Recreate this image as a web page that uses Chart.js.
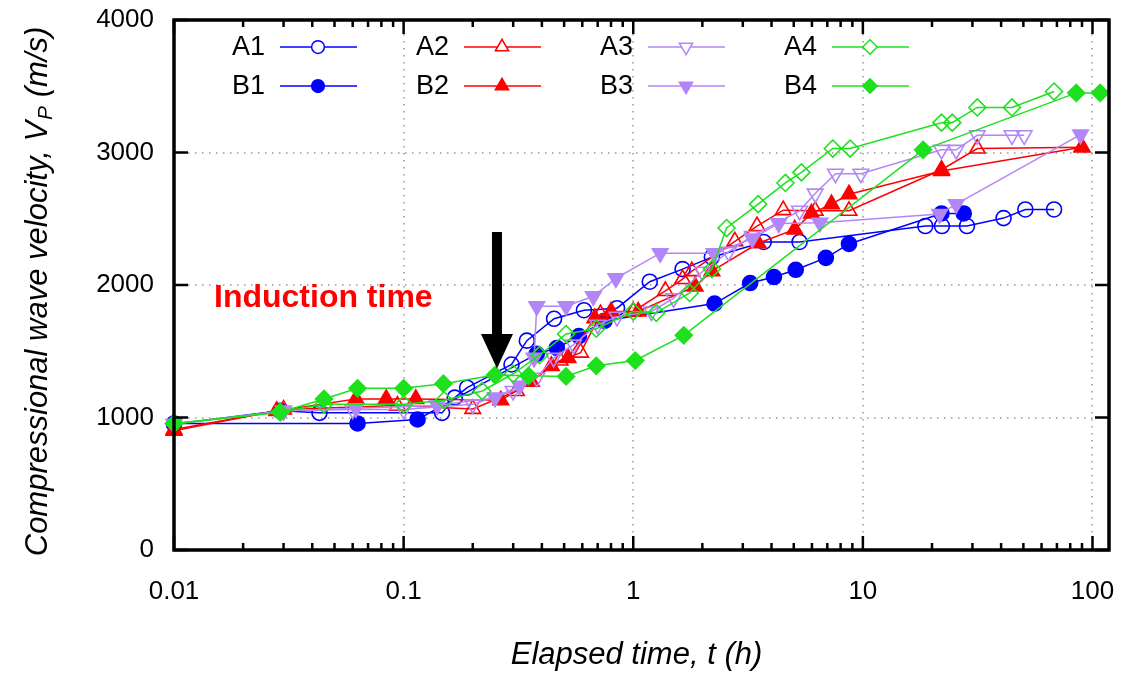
<!DOCTYPE html>
<html>
<head>
<meta charset="utf-8">
<title>Compressional wave velocity vs elapsed time</title>
<script src="https://cdn.jsdelivr.net/npm/chart.js@4.4.1/dist/chart.umd.min.js"></script>
<style>
  html, body { margin: 0; padding: 0; background: #fff; }
  #wrap { width: 1127px; height: 677px; }
</style>
</head>
<body>
<div id="wrap"><canvas id="myChart" width="1127" height="677"></canvas></div>
<script>
// Elapsed time t (h) and P-wave velocity Vp (m/s)
const a1Time = [0.01, 0.029, 0.043, 0.147, 0.167, 0.189, 0.295, 0.344, 0.452, 0.61, 0.85, 1.18, 1.64, 2.2, 3.7, 5.3, 18.7, 22.1, 28.4, 41, 51, 68];
const a1Vel  = [950, 1050, 1035, 1035, 1150, 1225, 1400, 1580, 1745, 1810, 1825, 2025, 2120, 2210, 2325, 2325, 2445, 2445, 2445, 2505, 2570, 2570];

const b1Time = [0.01, 0.063, 0.115, 0.38, 0.465, 0.58, 0.75, 2.26, 3.23, 4.1, 5.1, 6.9, 8.7, 22, 27.5];
const b1Vel  = [955, 955, 985, 1480, 1525, 1615, 1730, 1860, 2015, 2060, 2115, 2205, 2310, 2540, 2540];

const a2Time = [0.01, 0.03, 0.094, 0.2, 0.31, 0.48, 0.59, 0.72, 1.0, 1.38, 1.64, 1.8, 2.77, 3.46, 4.5, 6.2, 8.7, 22, 31.5, 90];
const a2Vel  = [910, 1060, 1090, 1065, 1200, 1430, 1490, 1780, 1800, 1955, 2045, 2105, 2330, 2445, 2565, 2560, 2560, 2870, 3030, 3040];

const b2Time = [0.01, 0.028, 0.062, 0.084, 0.113, 0.265, 0.36, 0.44, 0.52, 0.68, 0.8, 1.05, 1.86, 2.2, 3.5, 5.05, 5.97, 7.3, 8.7, 22, 90];
const b2Vel  = [900, 1050, 1140, 1140, 1140, 1130, 1270, 1390, 1450, 1750, 1800, 1800, 1990, 2105, 2315, 2420, 2540, 2610, 2685, 2860, 3040];

const a3Time = [0.01, 0.03, 0.06, 0.1, 0.2, 0.3, 0.38, 0.45, 0.55, 0.7, 0.85, 1.2, 1.5, 2.0, 2.6, 3.3, 5.3, 6.2, 7.6, 9.8, 22, 25.5, 31.5, 44.6, 50.4];
const a3Vel  = [950, 1050, 1060, 1060, 1100, 1200, 1300, 1450, 1550, 1700, 1760, 1800, 1900, 2100, 2250, 2370, 2560, 2690, 2840, 2840, 3020, 3020, 3130, 3130, 3130];

const b3Time = [0.01, 0.03, 0.062, 0.14, 0.25, 0.32, 0.37, 0.38, 0.51, 0.67, 0.84, 1.31, 2.25, 3.3, 4.3, 6.5, 21.6, 25.5, 88.7];
const b3Vel  = [950, 1050, 1070, 1090, 1150, 1240, 1450, 1840, 1840, 1915, 2050, 2240, 2240, 2350, 2465, 2470, 2535, 2610, 3135];

const a4Time = [0.01, 0.029, 0.045, 0.1, 0.15, 0.22, 0.3, 0.39, 0.51, 0.69, 1.0, 1.26, 1.76, 2.2, 2.55, 3.5, 4.6, 5.4, 7.4, 8.8, 22, 24.5, 31.5, 44.6, 68];
const a4Vel  = [955, 1040, 1100, 1100, 1130, 1200, 1330, 1470, 1630, 1670, 1800, 1790, 1940, 2120, 2430, 2610, 2770, 2850, 3030, 3030, 3225, 3225, 3340, 3340, 3460];

const b4Time = [0.01, 0.029, 0.045, 0.063, 0.1, 0.149, 0.25, 0.35, 0.51, 0.69, 1.02, 1.66, 18.3, 85, 108];
const b4Vel  = [955, 1040, 1140, 1220, 1220, 1255, 1320, 1315, 1310, 1390, 1430, 1620, 3020, 3450, 3450];

const xTickValues = [0.01, 0.1, 1, 10, 100];
const yTickValues = [0, 1000, 2000, 3000, 4000];

// induction time arrow (t, top, head start, tip)
const arrowTime = 0.255;
const arrowVel = [2400, 1630, 1370];

const FONT = '"Liberation Sans", Arial, Helvetica, sans-serif';
const BLUE = '#0000ff', RED = '#ff0000', PURPLE = '#b386f7', GREEN = '#1ee01e';

const seriesInfo = [
  { label: 'A1', time: a1Time, vel: a1Vel, color: BLUE,   style: 'circle',   rot: 0,   filled: false, r: 7.5 },
  { label: 'B1', time: b1Time, vel: b1Vel, color: BLUE,   style: 'circle',   rot: 0,   filled: true,  r: 7.5 },
  { label: 'A2', time: a2Time, vel: a2Vel, color: RED,    style: 'triangle', rot: 0,   filled: false, r: 9 },
  { label: 'B2', time: b2Time, vel: b2Vel, color: RED,    style: 'triangle', rot: 0,   filled: true,  r: 9 },
  { label: 'A3', time: a3Time, vel: a3Vel, color: PURPLE, style: 'triangle', rot: 180, filled: false, r: 9 },
  { label: 'B3', time: b3Time, vel: b3Vel, color: PURPLE, style: 'triangle', rot: 180, filled: true,  r: 9 },
  { label: 'A4', time: a4Time, vel: a4Vel, color: GREEN,  style: 'rectRot',  rot: 0,   filled: false, r: 8.5 },
  { label: 'B4', time: b4Time, vel: b4Vel, color: GREEN,  style: 'rectRot',  rot: 0,   filled: true,  r: 8.5 }
];

const datasets = seriesInfo.map((s, i) => ({
  label: s.label,
  data: s.time.map((t, j) => ({ x: t, y: s.vel[j] })),
  showLine: true,
  tension: 0,
  borderColor: s.color,
  backgroundColor: s.color,
  borderWidth: 1.5,
  pointStyle: s.style,
  pointRotation: s.rot,
  pointRadius: s.r,
  pointBorderWidth: 1.6,
  pointBorderColor: s.color,
  pointBackgroundColor: s.filled ? s.color : 'rgba(0,0,0,0)',
  clip: false,
  order: seriesInfo.length - i
}));

// dotted grid behind the data
const gridPlugin = {
  id: 'dotGrid',
  beforeDatasetsDraw(chart) {
    const { ctx, chartArea: a, scales: { x, y } } = chart;
    ctx.save();
    ctx.strokeStyle = '#999';
    ctx.lineWidth = 1.5;
    ctx.setLineDash([1.5, 5.5]);
    ctx.beginPath();
    xTickValues.forEach(v => {
      const px = Math.round(x.getPixelForValue(v));
      if (px > a.left + 3 && px < a.right - 3) { ctx.moveTo(px, a.top); ctx.lineTo(px, a.bottom); }
    });
    yTickValues.forEach(v => {
      const py = Math.round(y.getPixelForValue(v));
      if (py > a.top + 3 && py < a.bottom - 3) { ctx.moveTo(a.left, py); ctx.lineTo(a.right, py); }
    });
    ctx.stroke();
    ctx.restore();
  }
};

// border box with inward ticks on all four sides
const framePlugin = {
  id: 'frame',
  afterDatasetsDraw(chart) {
    const { ctx, chartArea: a, scales: { x, y } } = chart;
    ctx.save();
    ctx.strokeStyle = '#000';
    ctx.lineWidth = 2.5;
    ctx.beginPath();
    xTickValues.forEach(d => {
      const px = x.getPixelForValue(d);
      ctx.moveTo(px, a.bottom); ctx.lineTo(px, a.bottom - 14);
      ctx.moveTo(px, a.top); ctx.lineTo(px, a.top + 14);
      for (let k = 2; k <= 9; k++) {
        if (k * d > x.max) break;
        const mx = x.getPixelForValue(k * d);
        ctx.moveTo(mx, a.bottom); ctx.lineTo(mx, a.bottom - 7);
        ctx.moveTo(mx, a.top); ctx.lineTo(mx, a.top + 7);
      }
    });
    yTickValues.forEach(v => {
      const py = y.getPixelForValue(v);
      ctx.moveTo(a.left, py); ctx.lineTo(a.left + 14, py);
      ctx.moveTo(a.right, py); ctx.lineTo(a.right - 14, py);
    });
    ctx.stroke();
    ctx.lineWidth = 3.5;
    ctx.strokeRect(a.left, a.top, a.right - a.left, a.bottom - a.top);
    ctx.restore();
  }
};

// legend: label text left of a line sample with marker, 4 columns x 2 rows
const legendPlugin = {
  id: 'sideLegend',
  afterDatasetsDraw(chart) {
    const { ctx } = chart;
    ctx.save();
    ctx.font = '27px ' + FONT;
    ctx.textAlign = 'right';
    ctx.textBaseline = 'middle';
    seriesInfo.forEach((s, i) => {
      const col = Math.floor(i / 2), row = i % 2;
      const x0 = 280 + col * 184, y0 = 47 + row * 39;
      ctx.fillStyle = '#000';
      ctx.fillText(s.label, x0 - 15, y0 + 1);
      ctx.strokeStyle = s.color;
      ctx.lineWidth = 1.5;
      ctx.beginPath();
      ctx.moveTo(x0, y0); ctx.lineTo(x0 + 77, y0);
      ctx.stroke();
      ctx.fillStyle = s.filled ? s.color : '#fff';
      Chart.helpers.drawPoint(ctx, { pointStyle: s.style, rotation: s.rot, radius: s.r * 0.85, borderWidth: 1.6 }, x0 + 38, y0);
    });
    ctx.restore();
  }
};

// "Induction time" note, arrow and axis titles
const notesPlugin = {
  id: 'notes',
  afterDatasetsDraw(chart) {
    const { ctx, chartArea: a, scales: { x, y } } = chart;
    ctx.save();
    ctx.fillStyle = '#ff0000';
    ctx.font = 'bold 32px ' + FONT;
    ctx.textAlign = 'left';
    ctx.textBaseline = 'middle';
    ctx.fillText('Induction time', 214, y.getPixelForValue(1900));

    const ax = x.getPixelForValue(arrowTime);
    const yTop = y.getPixelForValue(arrowVel[0]);
    const yHead = y.getPixelForValue(arrowVel[1]);
    const yTip = y.getPixelForValue(arrowVel[2]);
    ctx.fillStyle = '#000';
    ctx.beginPath();
    ctx.moveTo(ax - 5, yTop); ctx.lineTo(ax + 5, yTop);
    ctx.lineTo(ax + 5, yHead); ctx.lineTo(ax + 16, yHead);
    ctx.lineTo(ax, yTip); ctx.lineTo(ax - 16, yHead);
    ctx.lineTo(ax - 5, yHead); ctx.closePath();
    ctx.fill();

    ctx.fillStyle = '#000';
    ctx.font = 'italic 31px ' + FONT;
    ctx.textAlign = 'center';
    ctx.textBaseline = 'middle';
    ctx.fillText('Elapsed time, t (h)', (a.left + a.right) / 2 - 5, 655);

    // y title with subscript P
    const part1 = 'Compressional wave velocity, V';
    const sub = 'P';
    const part2 = ' (m/s)';
    const w1 = ctx.measureText(part1).width;
    const w3 = ctx.measureText(part2).width;
    ctx.font = 'italic 21px ' + FONT;
    const w2 = ctx.measureText(sub).width;
    const total = w1 + w2 + w3;
    ctx.translate(38, 292);
    ctx.rotate(-Math.PI / 2);
    ctx.textAlign = 'left';
    let cx = -total / 2;
    ctx.font = 'italic 31px ' + FONT;
    ctx.fillText(part1, cx, 0);
    cx += w1;
    ctx.font = 'italic 21px ' + FONT;
    ctx.fillText(sub, cx + 1, 8);
    cx += w2 + 1;
    ctx.font = 'italic 31px ' + FONT;
    ctx.fillText(part2, cx, 0);
    ctx.restore();
  }
};

function noOverhang(scale) {
  scale.paddingTop = 0;
  scale.paddingBottom = 0;
  scale.paddingLeft = 0;
  scale.paddingRight = 0;
}

const chart = new Chart(document.getElementById('myChart').getContext('2d'), {
  type: 'scatter',
  data: { datasets: datasets },
  options: {
    responsive: false,
    animation: false,
    events: [],
    layout: { padding: { top: 20, right: 18, left: 0, bottom: 0 } },
    plugins: { legend: { display: false }, tooltip: { enabled: false } },
    scales: {
      x: {
        type: 'logarithmic',
        min: 0.01,
        max: 118,
        afterBuildTicks: scale => { scale.ticks = xTickValues.map(v => ({ value: v, major: true })); },
        afterFit: scale => { scale.height = 127; noOverhang(scale); },
        grid: { display: false, drawTicks: false },
        border: { display: false },
        ticks: {
          color: '#000',
          padding: 26,
          maxRotation: 0,
          font: { family: FONT, size: 26 },
          callback: v => String(v)
        }
      },
      y: {
        type: 'linear',
        min: 0,
        max: 4000,
        afterBuildTicks: scale => { scale.ticks = yTickValues.map(v => ({ value: v })); },
        afterFit: scale => { scale.width = 174; noOverhang(scale); },
        grid: { display: false, drawTicks: false },
        border: { display: false },
        ticks: {
          color: '#000',
          padding: 20,
          font: { family: FONT, size: 26 },
          callback: v => String(v)
        }
      }
    }
  },
  plugins: [gridPlugin, framePlugin, legendPlugin, notesPlugin]
});
</script>
</body>
</html>
